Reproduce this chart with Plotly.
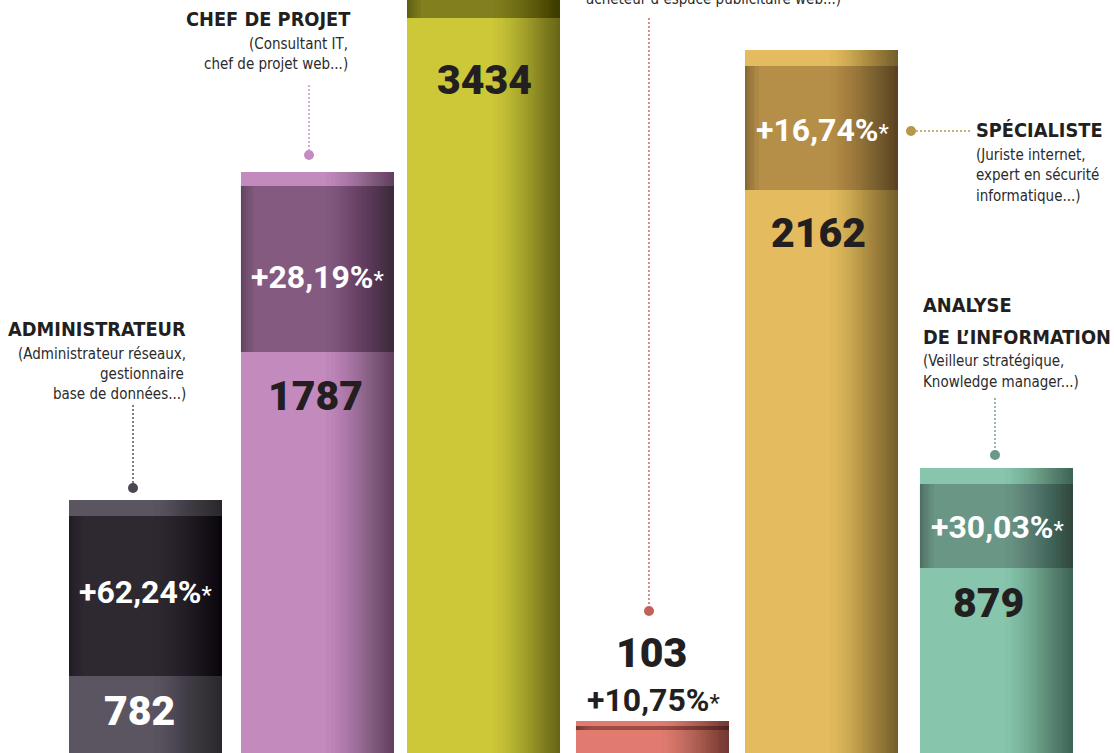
import plotly.graph_objects as go

# ---------------- data ----------------
categories = ["ADMINISTRATEUR", "CHEF DE PROJET", "cat3", "cat4", "SPÉCIALISTE", "ANALYSE DE L'INFORMATION"]
values = [782, 1787, 3434, 103, 2162, 879]
growth = ["+62,24%", "+28,19%", "", "+10,75%", "+16,74%", "+30,03%"]
band_start = [242, 1236, 2261, 77, 1733, 574]
band_end = [733, 1745, 3385, 90, 2113, 831]

light_colors = ["#5b5561", "#c28abd", "#cdc838", "#e27b6f", "#e4bb5e", "#87c6ac"]
dark_colors = ["#2e2931", "#845a80", "#827f1e", "#9c4c45", "#b58e48", "#6a9685"]
dot_colors = ["#4d4752", "#c48cc0", "#c8c43a", "#c0625a", "#b8974a", "#6a9a87"]

W, H = 1114, 753
X0_PX, STEP_PX, BAR_PX = 145.4, 169.63, 153
BAR_W = BAR_PX / STEP_PX
# small per-bar placement adjustments (pixels) to follow the irregular layout of the original
shift_px = [0.1, 2.0, -0.7, -1.8, -2.4, 2.9]
shift = [s / STEP_PX for s in shift_px]
x = list(range(len(values)))


def P(px, py):
    return px / W, 1 - py / H


def offs(width, right=False):
    if right:
        return [BAR_W / 2 - width + s for s in shift]
    return [-BAR_W / 2 + s for s in shift]


fig = go.Figure()

# base bars (light colour)
fig.add_trace(go.Bar(x=x, y=values, width=BAR_W, offset=offs(BAR_W),
                     marker=dict(color=light_colors, line=dict(width=0)),
                     hoverinfo="skip", showlegend=False))
# darker bands
band_h = [e - s for s, e in zip(band_start, band_end)]
fig.add_trace(go.Bar(x=x, y=band_h, base=band_start, width=BAR_W, offset=offs(BAR_W),
                     marker=dict(color=dark_colors, line=dict(width=0)), hoverinfo="skip", showlegend=False))
# left edge shading of bands
for w in [0.08, 0.06, 0.045, 0.03, 0.02, 0.01]:
    fig.add_trace(go.Bar(x=x, y=band_h, base=band_start,
                         width=w, offset=offs(w),
                         marker=dict(color="black", opacity=0.045, line=dict(width=0)),
                         hoverinfo="skip", showlegend=False))
# right side gradient (stacked translucent strips)
n = 36
for k in range(n):
    w = 0.40 * (1 - (k / n) ** 0.7)
    fig.add_trace(go.Bar(x=x, y=values, width=w, offset=offs(w, right=True),
                         marker=dict(color="black", opacity=0.014, line=dict(width=0)),
                         hoverinfo="skip", showlegend=False))

# ---------------- connectors ----------------
conn = [
    (0, [(133, 405), (133, 483)], (133, 488)),
    (1, [(309, 85), (309, 150)], (309, 155)),
    (3, [(649, 18), (649, 605)], (649, 611)),
    (4, [(916, 131), (972, 131)], (911, 131)),
    (5, [(995, 398), (995, 450)], (995, 455)),
]
shapes = []
for i, (a, b), (dx, dy) in conn:
    x0, y0 = P(*a)
    x1, y1 = P(*b)
    shapes.append(dict(type="line", xref="paper", yref="paper", x0=x0, y0=y0, x1=x1, y1=y1,
                       line=dict(color=dot_colors[i], width=1.4, dash="2px,2px")))
    r = 5
    shapes.append(dict(type="circle", xref="paper", yref="paper",
                       x0=(dx - r) / W, x1=(dx + r) / W, y0=1 - (dy + r) / H, y1=1 - (dy - r) / H,
                       fillcolor=dot_colors[i], line=dict(width=0)))

# ---------------- texts ----------------
ann = []
TITLE_FONT = "'DejaVu Sans Condensed', 'Roboto Condensed', Roboto, sans-serif"
NUM_FONT = "Roboto"
dark_txt = "#231f20"


def add_text(txt, px, py, xanchor="center", size=16, color="#2b2b2b", family=TITLE_FONT, weight="normal"):
    ax, ay = P(px, py)
    ann.append(dict(text=txt, x=ax, y=ay, xref="paper", yref="paper", xanchor=xanchor, yanchor="middle",
                    showarrow=False, font=dict(family=family, size=size, color=color, weight=weight)))


def star(p):
    return p + "<span style='font-weight:normal;font-size:24px'>*</span>"


# value labels
val_pos = [(139, 711, "white"), (315, 396, dark_txt), (484, 80, dark_txt), (651, 653, dark_txt),
           (818, 233, dark_txt), (988, 603, dark_txt)]
for v, (px, py, c) in zip(values, val_pos):
    add_text(str(v), px, py, size=41, color=c, family=NUM_FONT, weight=900)

# growth labels
g_pos = [(145, 592, "white"), (317, 277, "white"), None, (653, 700, dark_txt), (822, 130, "white"),
         (997, 527, "white")]
for g, pos in zip(growth, g_pos):
    if g and pos:
        add_text(star(g), pos[0], pos[1], size=32, color=pos[2], family=NUM_FONT, weight="bold")

# category titles
TS, SS = 19.8, 15
add_text("ADMINISTRATEUR", 188, 329, xanchor="right", size=TS, color="#231f20", weight="bold")
add_text("(Administrateur réseaux,", 188, 354, xanchor="right", size=SS)
add_text("gestionnaire", 186, 374, xanchor="right", size=SS)
add_text("base de données...)", 188, 394, xanchor="right", size=SS)

add_text("CHEF DE PROJET", 353, 20, xanchor="right", size=TS, color="#231f20", weight="bold")
add_text("(Consultant IT,", 350, 44, xanchor="right", size=SS)
add_text("chef de projet web...)", 350, 64, xanchor="right", size=SS)

add_text("acheteur d’espace publicitaire web...)", 843, -1, xanchor="right", size=SS)

add_text("SPÉCIALISTE", 974, 130, xanchor="left", size=TS, color="#231f20", weight="bold")
add_text("(Juriste internet,", 974, 155, xanchor="left", size=SS)
add_text("expert en sécurité", 974, 175, xanchor="left", size=SS)
add_text("informatique...)", 974, 196, xanchor="left", size=SS)

add_text("ANALYSE", 921, 305, xanchor="left", size=TS, color="#231f20", weight="bold")
add_text("DE L’INFORMATION", 921, 337, xanchor="left", size=TS, color="#231f20", weight="bold")
add_text("(Veilleur stratégique,", 921, 361, xanchor="left", size=SS)
add_text("Knowledge manager...)", 921, 382, xanchor="left", size=SS)

# axis ranges derived from pixel geometry
x_left = -X0_PX / STEP_PX
x_right = (W - X0_PX) / STEP_PX
y_bottom = (755 - H) / 0.326
y_top = 755 / 0.326

fig.update_layout(
    barmode="overlay",
    bargap=0,
    width=W, height=H,
    margin=dict(l=0, r=0, t=0, b=0),
    paper_bgcolor="white", plot_bgcolor="white",
    xaxis=dict(visible=False, range=[x_left, x_right], fixedrange=True),
    yaxis=dict(visible=False, range=[y_bottom, y_top], fixedrange=True),
    shapes=shapes,
    annotations=ann,
    showlegend=False,
)

fig.write_html("out.html", config={"displayModeBar": False},
               post_script="document.body.style.margin='0';document.body.style.overflow='hidden';")
